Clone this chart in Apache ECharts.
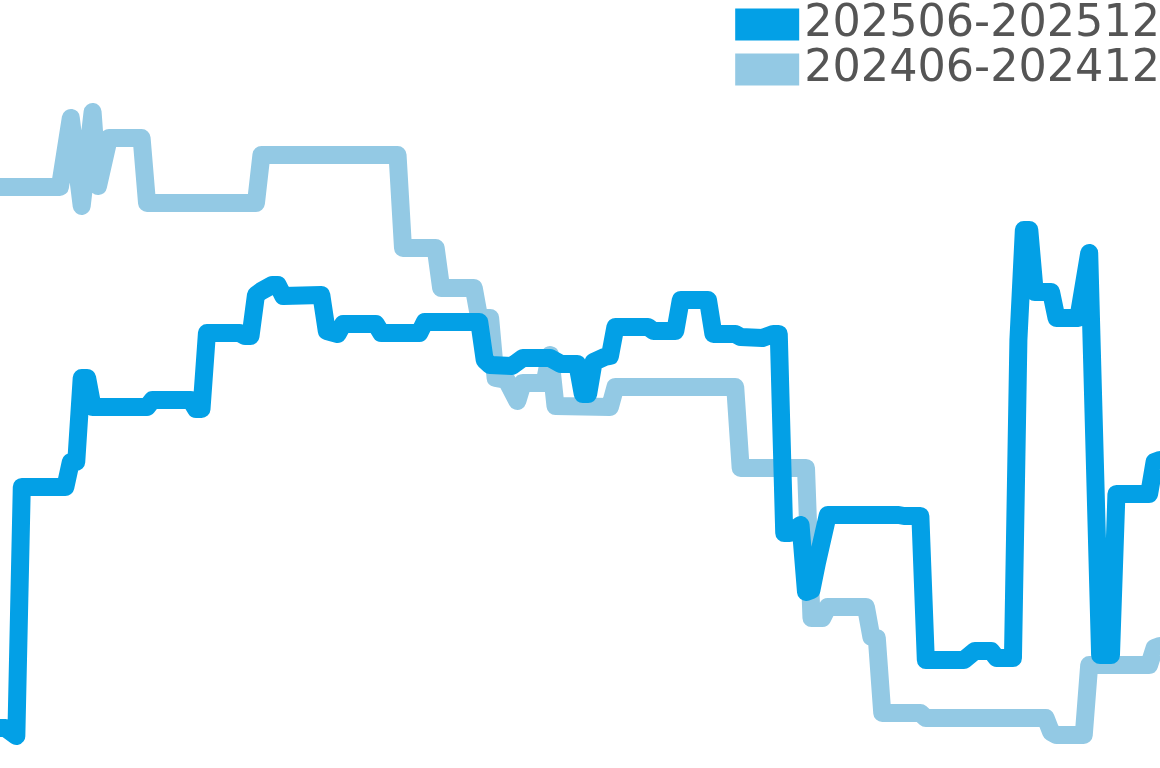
<!DOCTYPE html>
<html>
<head>
<meta charset="utf-8">
<script src="https://cdn.jsdelivr.net/npm/echarts@6/dist/echarts.min.js"></script>
<style>
html,body{margin:0;padding:0;background:#fff;}
#chart{width:1160px;height:768px;}
</style>
</head>
<body>
<div id="chart"></div>
<script>
// day index within the period (0 = first day of June)
const seriesNames = ['202506-202512', '202406-202412'];

const days2025 = [0,1,3,4,12,13,14,15,16,17,27,28,35,36,37,38,44,45,46,47,48,49,50,51,52,59,60,62,63,69,70,77,78,88,89,90,94,96,101,103,106,107,108,109,111,112,113,119,120,124,125,130,131,135,136,140,142,143,144,145,147,148,149,150,152,165,166,169,170,177,179,182,183,186,187,188,189,190,193,194,198,200,202,204,205,211,212,213];
const vals2025 = [4.0,4.0,3.2,28.1,28.1,30.6,30.6,39.0,39.0,36.1,36.1,36.8,36.8,35.9,35.9,43.5,43.5,43.2,43.2,47.3,47.7,48.0,48.3,48.3,47.2,47.3,43.7,43.4,44.4,44.4,43.5,43.5,44.6,44.6,40.8,40.3,40.2,41.0,41.0,40.4,40.4,37.4,37.4,40.6,41.1,41.2,44.1,44.1,43.7,43.7,46.8,46.8,43.4,43.4,43.1,43.0,43.4,43.4,23.5,23.5,24.3,17.6,17.8,20.5,25.3,25.3,25.2,25.2,10.8,10.8,11.7,11.7,11.0,11.0,42.8,53.8,53.8,47.6,47.6,45.0,45.0,51.5,11.3,11.3,27.4,27.4,30.6,30.8];

const days2024 = [0,11,13,15,17,18,20,26,27,47,48,73,74,80,81,87,88,90,91,93,95,96,100,101,102,112,113,135,136,148,149,151,152,159,160,161,162,169,170,192,193,194,199,200,211,212,213];
const vals2024 = [58.1,58.1,65.0,56.2,65.6,58.2,63.0,63.0,56.5,56.5,61.3,61.3,52.0,52.0,48.0,48.0,45.0,45.0,39.0,38.8,36.7,38.5,38.5,41.3,36.2,36.1,38.1,38.1,30.0,30.0,15.0,15.0,16.1,16.1,13.1,13.0,5.5,5.5,5.0,5.0,3.6,3.3,3.3,10.3,10.3,12.0,12.2];

const colors = ['#03A0E6', '#93C9E4'];

function pairs(d, v) { return d.map((x, i) => [x, v[i]]); }

const chart = echarts.init(document.getElementById('chart'), null, {renderer: 'canvas'});
chart.setOption({
  animation: false,
  backgroundColor: '#ffffff',
  grid: {left: 0, right: 0, top: 0, bottom: 0, containLabel: false},
  legend: {
    data: seriesNames,
    orient: 'vertical',
    right: 0,
    top: 2,
    padding: 0,
    itemGap: 0,
    itemWidth: 64,
    itemHeight: 32,
    icon: 'rect',
    textStyle: {fontSize: 44.5, lineHeight: 44, color: '#555555', fontFamily: 'DejaVu Sans'}
  },
  xAxis: {type: 'value', min: 0, max: 213, show: false},
  yAxis: {type: 'value', min: 0, max: 76.8, show: false},
  series: [
    {
      name: seriesNames[1],
      type: 'line',
      data: pairs(days2024, vals2024),
      showSymbol: false,
      z: 2,
      color: colors[1],
      lineStyle: {width: 18, color: colors[1], cap: 'round', join: 'round'}
    },
    {
      name: seriesNames[0],
      type: 'line',
      data: pairs(days2025, vals2025),
      showSymbol: false,
      z: 3,
      color: colors[0],
      lineStyle: {width: 18, color: colors[0], cap: 'round', join: 'round'}
    }
  ]
});
</script>
</body>
</html>
